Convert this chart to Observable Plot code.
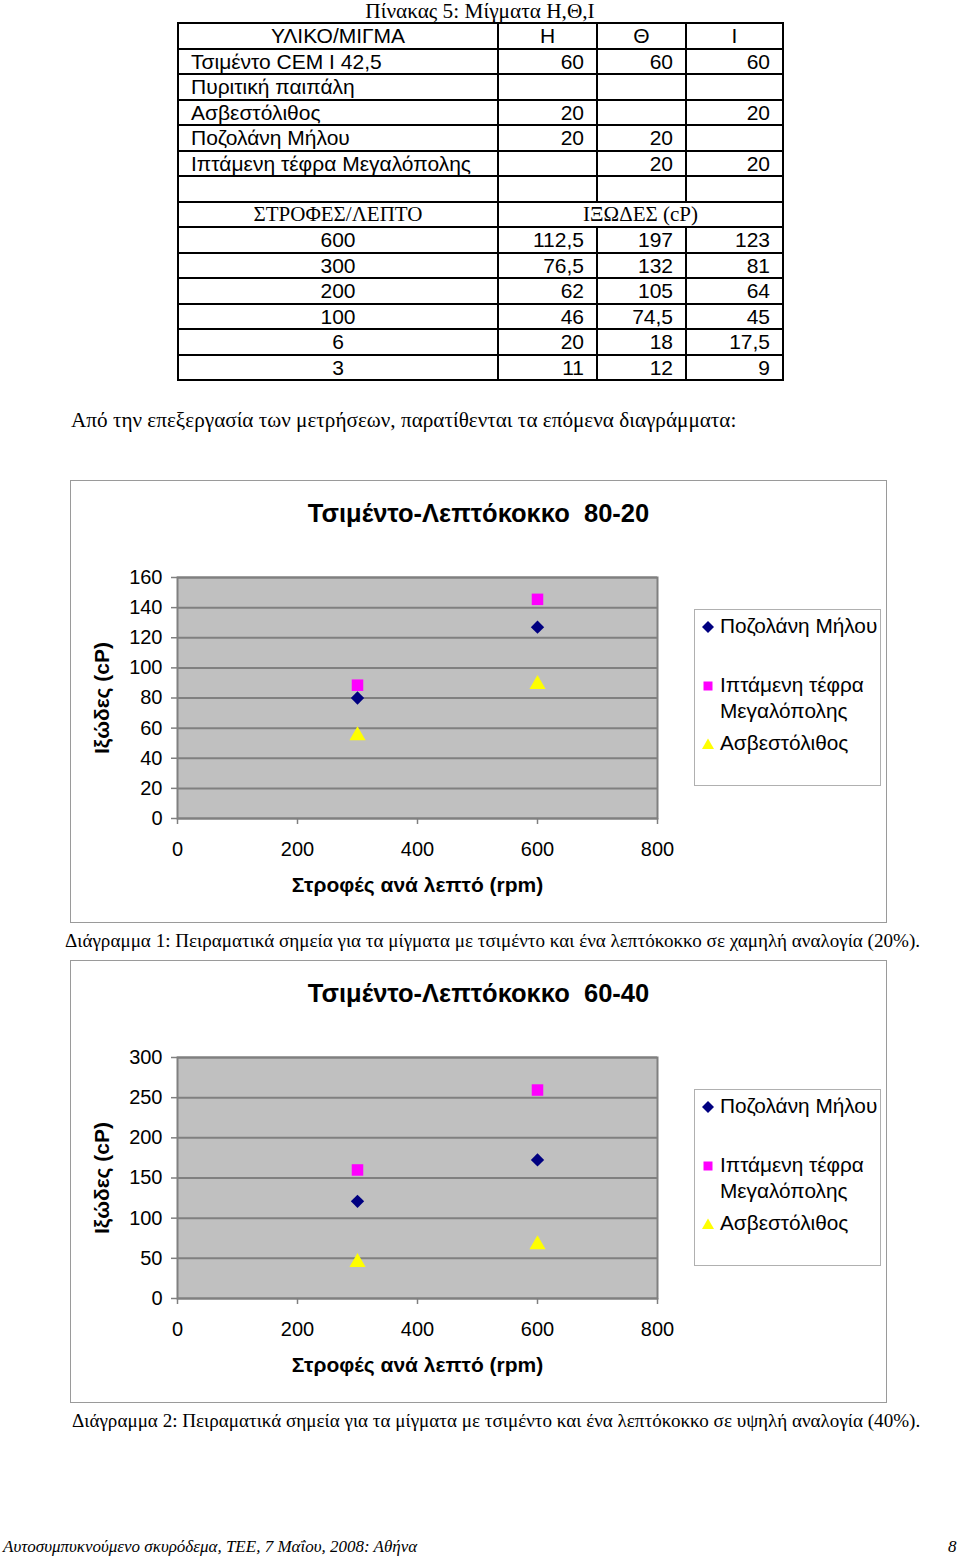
<!DOCTYPE html>
<html>
<head>
<meta charset="utf-8">
<script src="https://cdn.jsdelivr.net/npm/d3@7"></script>
<script src="https://cdn.jsdelivr.net/npm/@observablehq/plot@0.6"></script>
<style>
  html, body { margin: 0; padding: 0; background: #fff; }
  #page { position: relative; width: 960px; height: 1558px; background: #fff; overflow: hidden; color: #000; }
  .serif { font-family: "Liberation Serif", "Times New Roman", serif; }
  .sans { font-family: "Liberation Sans", Arial, sans-serif; }
  .abs { position: absolute; white-space: nowrap; }
  table.t { position: absolute; left: 177px; top: 22px; border-collapse: collapse; table-layout: fixed;
            font-family: "Liberation Sans", Arial, sans-serif; font-size: 21px; }
  table.t tr { height: 25.5px; }
  table.t td { border: 2px solid #000; padding: 0 12px; line-height: 1; white-space: nowrap; }
  table.t td.l { text-align: left; }
  table.t td.c { text-align: center; }
  table.t td.r { text-align: right; }
  table.t tr.serifrow td { font-family: "Liberation Serif", "Times New Roman", serif; }
  .chartbox { position: absolute; left: 70px; width: 815px; border: 1.5px solid #9a9a9a; background: #fff; }
  .chartbox svg { position: absolute; left: 0; top: 0; }
  .ctitle { position: absolute; left: 0; width: 815px; text-align: center; font-family: "Liberation Sans", Arial, sans-serif;
            font-weight: bold; font-size: 25.5px; line-height: 1; white-space: pre; }
  .legend { position: absolute; left: 623px; width: 185px; background: #fff; border: 1.5px solid #b0b0b0;
            font-family: "Liberation Sans", Arial, sans-serif; font-size: 20.8px; }
  .legend .item { position: absolute; left: 0; width: 185px; }
  .legend .item svg { position: absolute; left: 7px; top: 8px; }
  .legend .item span { position: absolute; left: 25px; width: 160px; line-height: 26px; white-space: normal; }
  svg [aria-label="x-axis label"] text, svg [aria-label="y-axis label"] text { font-weight: bold; font-size: 21px; }
</style>
</head>
<body>
<div id="page"></div>
<script>
// ---------------- DATA ----------------
const tableTitle = "Πίνακας 5: Μίγματα Η,Θ,Ι";
const mixHeader = ["ΥΛΙΚΟ/ΜΙΓΜΑ", "Η", "Θ", "Ι"];
const materials = ["Τσιμέντο CEM I 42,5", "Πυριτική παιπάλη", "Ασβεστόλιθος", "Ποζολάνη Μήλου", "Ιπτάμενη τέφρα Μεγαλόπολης", ""];
const mixH     = ["60", "", "20", "20", "", ""];
const mixTheta = ["60", "", "", "20", "20", ""];
const mixI     = ["60", "", "20", "", "20", ""];
const speedHeader = ["ΣΤΡΟΦΕΣ/ΛΕΠΤΟ", "ΙΞΩΔΕΣ (cP)"];
const speeds     = ["600", "300", "200", "100", "6", "3"];
const viscH      = ["112,5", "76,5", "62", "46", "20", "11"];
const viscTheta  = ["197", "132", "105", "74,5", "18", "12"];
const viscI      = ["123", "81", "64", "45", "17,5", "9"];

const introText = "Από την επεξεργασία των μετρήσεων, παρατίθενται τα επόμενα διαγράμματα:";

const seriesNames  = ["Ποζολάνη Μήλου", "Ιπτάμενη τέφρα Μεγαλόπολης", "Ασβεστόλιθος"];
const seriesColors = ["#000080", "#ff00ff", "#ffff00"];
const seriesSymbols = ["diamond2", "square", "triangle"];

const rpm = [300, 600];
// Chart 1: cement - fine material 80-20
const pozzolana80 = [80, 127];
const flyAsh80    = [88.5, 145.5];
const limestone80 = [55, 89];
// Chart 2: cement - fine material 60-40
const pozzolana60 = [121, 172.5];
const flyAsh60    = [160, 259.5];
const limestone60 = [45, 67];

const xTicks = [0, 200, 400, 600, 800];
const yTicks1 = [0, 20, 40, 60, 80, 100, 120, 140, 160];
const yTicks2 = [0, 50, 100, 150, 200, 250, 300];

const title1 = "Τσιμέντο-Λεπτόκοκκο  80-20";
const title2 = "Τσιμέντο-Λεπτόκοκκο  60-40";
const xLabel = "Στροφές ανά λεπτό (rpm)";
const yLabel = "Ιξώδες (cP)";
const caption1 = "Διάγραμμα 1: Πειραματικά σημεία για τα μίγματα με τσιμέντο και ένα λεπτόκοκκο σε χαμηλή αναλογία (20%).";
const caption2 = "Διάγραμμα 2: Πειραματικά σημεία για τα μίγματα με τσιμέντο και ένα λεπτόκοκκο σε υψηλή αναλογία (40%).";
const footerLeft = "Αυτοσυμπυκνούμενο σκυρόδεμα, ΤΕΕ, 7 Μαΐου, 2008: Αθήνα";
const footerRight = "8";

// ---------------- PAGE ----------------
const page = d3.select("#page");

page.append("div").attr("class", "abs serif")
  .style("left", "0px").style("width", "960px").style("text-align", "center")
  .style("top", "0px").style("font-size", "21.3px").style("line-height", "22px")
  .text(tableTitle);

const table = page.append("table").attr("class", "t");
const cg = table.append("colgroup");
[320, 99, 89, 97].forEach(w => cg.append("col").style("width", w + "px"));

let tr = table.append("tr");
mixHeader.forEach(h => tr.append("td").attr("class", "c").text(h));
materials.forEach((m, i) => {
  const r = table.append("tr");
  r.append("td").attr("class", "l").text(m);
  [mixH, mixTheta, mixI].forEach(col => r.append("td").attr("class", "r").text(col[i]));
});
tr = table.append("tr").attr("class", "serifrow");
tr.append("td").attr("class", "c").text(speedHeader[0]);
tr.append("td").attr("class", "c").attr("colspan", 3).text(speedHeader[1]);
speeds.forEach((s, i) => {
  const r = table.append("tr");
  r.append("td").attr("class", "c").text(s);
  [viscH, viscTheta, viscI].forEach(col => r.append("td").attr("class", "r").text(col[i]));
});

page.append("div").attr("class", "abs serif")
  .style("left", "71px").style("top", "408px").style("font-size", "21.2px").style("line-height", "24px")
  .text(introText);

function makeChart(top, height, title, yMax, yTicks, series) {
  const box = page.append("div").attr("class", "chartbox")
    .style("top", top + "px").style("height", height + "px");
  const data = series.flatMap((vals, s) => rpm.map((x, i) => ({x, y: vals[i], s})));
  const svg = Plot.plot({
    width: 815, height,
    marginLeft: 106, marginRight: 229, marginTop: 96, marginBottom: height - 337,
    style: {fontFamily: "'Liberation Sans', Arial, sans-serif", fontSize: "20px", background: "transparent", color: "#000", overflow: "visible"},
    x: {domain: [0, 800]},
    y: {domain: [0, yMax]},
    marks: [
      Plot.frame({fill: "#c0c0c0", stroke: "none"}),
      Plot.gridY(yTicks, {stroke: "#808080", strokeOpacity: 1, strokeWidth: 2}),
      Plot.frame({stroke: "#808080", strokeWidth: 2}),
      Plot.axisX(xTicks, {tickSize: 6, tickPadding: 17, stroke: "#808080", strokeWidth: 1.5,
        label: xLabel, labelAnchor: "center", labelArrow: "none", labelOffset: 73}),
      Plot.axisY(yTicks, {tickSize: 6, tickPadding: 9, stroke: "#808080", strokeWidth: 1.5,
        label: yLabel, labelAnchor: "center", labelArrow: "none", labelOffset: 83}),
      ...seriesNames.map((n, s) => Plot.dot(data.filter(d => d.s === s), {
        x: "x", y: "y", symbol: () => seriesSymbols[s], fill: seriesColors[s], stroke: "none",
        r: s === 1 ? 6.5 : 6
      }))
    ]
  });
  box.node().appendChild(svg);
  box.append("div").attr("class", "ctitle").style("top", "20px").text(title);
  const lg = box.append("div").attr("class", "legend").style("top", "128px").style("height", "175px");
  const itemTops = [3, 62, 120];
  const shapes = [
    "M6,0 L12,6 L6,12 L0,6 Z",
    "M1.5,1.5 H10.5 V10.5 H1.5 Z",
    "M6,0.5 L12,11 L0,11 Z"
  ];
  seriesNames.forEach((n, s) => {
    const it = lg.append("div").attr("class", "item").style("top", itemTops[s] + "px");
    it.append("svg").attr("width", 12).attr("height", 12).append("path")
      .attr("d", shapes[s]).attr("fill", seriesColors[s]);
    it.append("span").text(n);
  });
}

makeChart(480, 441, title1, 160, yTicks1, [pozzolana80, flyAsh80, limestone80]);
makeChart(960, 441, title2, 300, yTicks2, [pozzolana60, flyAsh60, limestone60]);

page.append("div").attr("class", "abs serif")
  .style("left", "65px").style("top", "930px").style("font-size", "19.1px").style("line-height", "22px")
  .text(caption1);
page.append("div").attr("class", "abs serif")
  .style("left", "72px").style("top", "1410px").style("font-size", "19.1px").style("line-height", "22px")
  .text(caption2);

page.append("div").attr("class", "abs serif")
  .style("left", "3px").style("top", "1537px").style("font-size", "17px").style("font-style", "italic").style("line-height", "20px")
  .text(footerLeft);
page.append("div").attr("class", "abs serif")
  .style("left", "948px").style("top", "1537px").style("font-size", "17px").style("font-style", "italic").style("line-height", "20px")
  .text(footerRight);
</script>
</body>
</html>
